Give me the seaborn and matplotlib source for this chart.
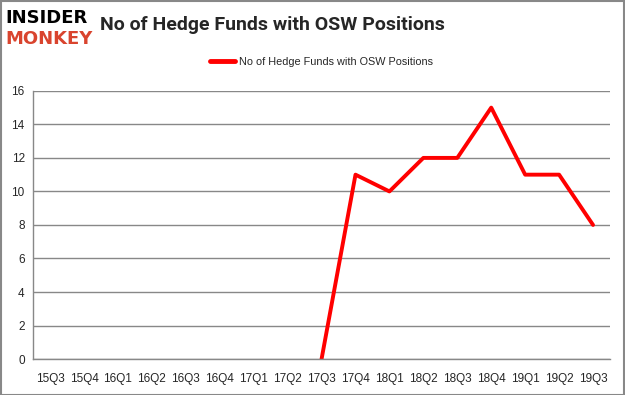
import numpy as np
import pandas as pd
import matplotlib
matplotlib.use("Agg")
import matplotlib.pyplot as plt
import seaborn as sns

quarters = ["15Q3", "15Q4", "16Q1", "16Q2", "16Q3", "16Q4", "17Q1", "17Q2", "17Q3",
            "17Q4", "18Q1", "18Q2", "18Q3", "18Q4", "19Q1", "19Q2", "19Q3"]
funds = [np.nan, np.nan, np.nan, np.nan, np.nan, np.nan, np.nan, np.nan, 0,
         11, 10, 12, 12, 15, 11, 11, 8]
label = "No of Hedge Funds with OSW Positions"

df = pd.DataFrame({"pos": range(len(quarters)), "funds": funds})

sns.set_style("white")
plt.rcParams["font.family"] = ["Liberation Sans", "DejaVu Sans"]

fig = plt.figure(figsize=(6.25, 3.95), dpi=100)
ax = fig.add_axes([0.053, 0.091, 0.923, 0.679])

sns.lineplot(data=df, x="pos", y="funds", color="#ff0000", linewidth=2.8,
             label=label, ax=ax)

ax.set_xlim(-0.5, len(quarters) - 0.5)
ax.set_ylim(0, 16)
ax.set_yticks(range(0, 17, 2))
ax.set_xticks(range(len(quarters)))
ax.set_xticklabels(quarters, fontsize=8.5)
ax.set_xticks(np.arange(-0.5, len(quarters), 1), minor=True)
ax.tick_params(axis="x", which="major", length=0, pad=10)
ax.tick_params(axis="x", which="minor", length=4, color="#888888", width=1)
ax.tick_params(axis="y", length=4, color="#888888", width=1, labelsize=8.5, pad=2)
ax.set_xlabel("")
ax.set_ylabel("")
ax.grid(axis="y", color="#888888", linewidth=1)
for s in ["top", "right"]:
    ax.spines[s].set_visible(False)
for s in ["left", "bottom"]:
    ax.spines[s].set_color("#888888")
    ax.spines[s].set_linewidth(1)

leg = ax.legend(loc="center", bbox_to_anchor=(0.5, 1.107), frameon=False,
                fontsize=7.8, handlelength=2.3, handletextpad=0.3)
for h in leg.get_lines():
    h.set_linewidth(3.5)

fig.text(0.16, 0.937, "No of Hedge Funds with OSW Positions", fontsize=14,
         fontweight="bold", va="center", ha="left", family=["Roboto", "DejaVu Sans"])
fig.text(0.008, 0.955, "INSIDER", fontsize=13, fontweight="heavy", color="black",
         va="center", family=["DejaVu Sans"])
fig.text(0.008, 0.9, "MONKEY", fontsize=13, fontweight="heavy", color="#d9442e",
         va="center", family=["DejaVu Sans"])

fig.patches.append(plt.Rectangle((0.001, 0.001), 0.997, 0.997, transform=fig.transFigure,
                                 fill=False, edgecolor="#888888", linewidth=1.5))

fig.savefig("out.png", dpi=100)
